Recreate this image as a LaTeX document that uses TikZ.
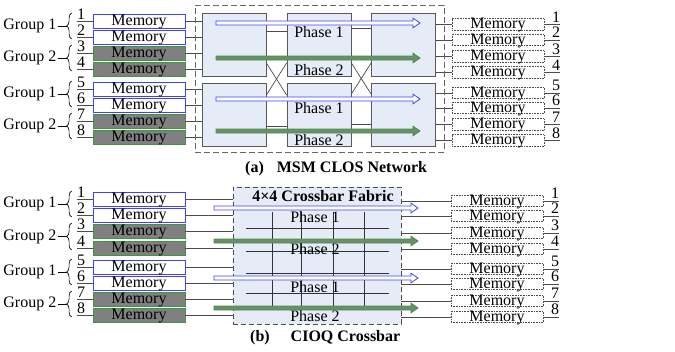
\documentclass[tikz,border=0pt]{standalone}
\usepackage{fontspec}
\setmainfont{Liberation Serif}
\usetikzlibrary{calc, decorations.pathreplacing}

\definecolor{flowblue}{RGB}{64,64,255}
\definecolor{flowgreen}{RGB}{60,150,60}
\definecolor{flowfill}{RGB}{112,140,112}
\definecolor{stagefill}{RGB}{230,236,247}

\tikzset{
  every node/.style={font=\fontsize{16}{18}\selectfont, inner sep=0pt},
  membox/.style={draw, line width=0.8pt, minimum width=92pt, minimum height=14pt, text height=11.5pt, text depth=2.5pt},
  memblue/.style={membox, draw=flowblue, fill=white},
  memgreen/.style={membox, draw=flowgreen, fill=gray},
  memout/.style={draw=black!70, densely dotted, line width=0.6pt, minimum width=92pt, minimum height=11.5pt, text height=10pt, text depth=1.5pt},
  stage/.style={draw=black!65, fill=stagefill, line width=0.8pt, minimum width=64pt, minimum height=63pt},
  wire/.style={draw=black!70, line width=0.7pt},
  gridline/.style={draw=black!80, line width=0.7pt},
  grp/.style={decorate, decoration={brace, amplitude=5pt}, line width=0.6pt},
  bluearrow/.style={draw=flowblue, fill=white, line width=0.8pt},
  greenarrow/.style={draw=flowgreen, fill=flowfill, line width=0.8pt},
  caption/.style={anchor=west, font=\fontsize{16}{18}\selectfont\bfseries}
}

% style, start x, tip x, y
\newcommand{\flowarrow}[4]{%
  \draw[#1] (#2,#4-2) -- (#3-7,#4-2) -- (#3-7,#4-4.8) -- (#3,#4)
    -- (#3-7,#4+4.8) -- (#3-7,#4+2) -- (#2,#4+2) -- cycle;}

\begin{document}
\begin{tikzpicture}[x=1pt, y=-1pt]
\useasboundingbox (0,0) rectangle (675,351);

% ---------- (a) MSM CLOS network ----------
\foreach \x/\c in {234/l, 319/m, 403.5/r}{
  \node[stage] (\c1) at (\x,45) {};
  \node[stage] (\c2) at (\x,114.5) {};
}
\draw[wire] (l1.east |- 0,31) -- (m1.west |- 0,31);
\draw[wire] (l2.east |- 0,126) -- (m2.west |- 0,126);
\draw[wire] (m1.east |- 0,28) -- (r1.west |- 0,28);
\draw[wire] (m2.east |- 0,124) -- (r2.west |- 0,124);
\draw[wire] (l1.east |- 0,63) -- (m2.west |- 0,95);
\draw[wire] (l2.east |- 0,95) -- (m1.west |- 0,63);
\draw[wire] (m1.east |- 0,63) -- (r2.west |- 0,94);
\draw[wire] (m2.east |- 0,94) -- (r1.west |- 0,63);

\foreach \y/\t in {32/1, 70/2, 108/1, 140/2}
  \node at (319,\y) {Phase \t};

\foreach \y/\s [count=\i] in {21/memblue, 37/memblue, 53/memgreen, 69/memgreen,
                               89/memblue, 105/memblue, 121/memgreen, 137/memgreen}{
  \node[\s] (mla\i) at (139,\y) {Memory};
  \node (nla\i) at (81,\y-6.5) {\i};
  \draw[wire] (nla\i.south west |- mla\i.west) -- (mla\i.west);
  \draw[wire] (mla\i.east) -- (mla\i.east -| l1.west);
}
\foreach \y [count=\i] in {24.5, 40, 56.5, 72.5, 93, 108, 124.5, 140.5}{
  \node[memout] (mra\i) at (498,\y) {Memory};
  \node (nra\i) at (556,\y-7.5) {\i};
  \draw[wire] (mra\i.west -| r1.east) -- (mra\i.west);
  \draw[wire] (mra\i.east) -- (mra\i.east -| nra\i.east);
}
\node[draw=black!60, dash pattern=on 6pt off 3pt, line width=0.9pt,
      minimum width=249pt, minimum height=147pt] (clos) at (319.5,78.5) {};

\flowarrow{bluearrow}{216}{420}{23}
\flowarrow{greenarrow}{216}{420}{58}
\flowarrow{bluearrow}{216}{420}{99}
\flowarrow{greenarrow}{216}{420}{131}

\node[caption] (capa) at (245,169) {(a)\hspace{13pt}MSM CLOS Network};

% ---------- (b) CIOQ crossbar ----------
\node[draw=black!70, fill=stagefill, dash pattern=on 5pt off 3pt, line width=0.9pt,
      minimum width=168pt, minimum height=137pt] (xbar) at (317,255.5) {};
\node[font=\fontsize{16}{18}\selectfont\bfseries] (xtitle) at (323,196) {4×4 Crossbar Fabric};
\foreach \x in {272, 301, 333, 364}
  \draw[gridline] (\x,212) -- (\x,307);
\foreach \y in {228, 251, 273, 293}
  \draw[gridline] (246,\y) -- (389,\y);
\foreach \y/\t in {217/1, 249/2, 287/1, 316/2}
  \node at (315,\y) {Phase \t};

\foreach \y/\s [count=\i] in {199/memblue, 215/memblue, 231/memgreen, 248/memgreen,
                               267/memblue, 283/memblue, 299/memgreen, 315/memgreen}{
  \node[\s] (mlb\i) at (139,\y) {Memory};
  \node (nlb\i) at (81,\y-6.5) {\i};
  \draw[wire] (nlb\i.south west |- mlb\i.west) -- (mlb\i.west);
  \draw[wire] (mlb\i.east) -- (mlb\i.east -| xbar.west);
}
\foreach \y [count=\i] in {201, 216, 233, 249, 269, 284, 301, 317}{
  \node[memout] (mrb\i) at (497,\y) {Memory};
  \node (nrb\i) at (555,\y-7.5) {\i};
  \draw[wire] (mrb\i.west -| xbar.east) -- (mrb\i.west);
  \draw[wire] (mrb\i.east) -- (mrb\i.east -| nrb\i.east);
}

\flowarrow{bluearrow}{214}{418}{208}
\flowarrow{greenarrow}{214}{418}{241}
\flowarrow{bluearrow}{214}{418}{278}
\flowarrow{greenarrow}{214}{418}{308}

\node[caption] (capb) at (250,338) {(b)\hspace{21pt}CIOQ Crossbar};

% ---------- group braces ----------
\foreach \r in {a, b}{
  \foreach \p/\q/\t in {1/2/Group 1, 3/4/Group 2, 5/6/Group 1, 7/8/Group 2}{
    \draw[grp] ($(ml\r\q.west)+(-21,2)$) -- ($(ml\r\p.west)+(-21,-8)$)
      coordinate[midway] (gb\r\p);
    \draw[line width=0.6pt] ([xshift=-5pt]gb\r\p) -- ++(-9,0)
      node[left, inner sep=1pt] (g\r\p) {\t};
  }
}
\end{tikzpicture}
\end{document}
